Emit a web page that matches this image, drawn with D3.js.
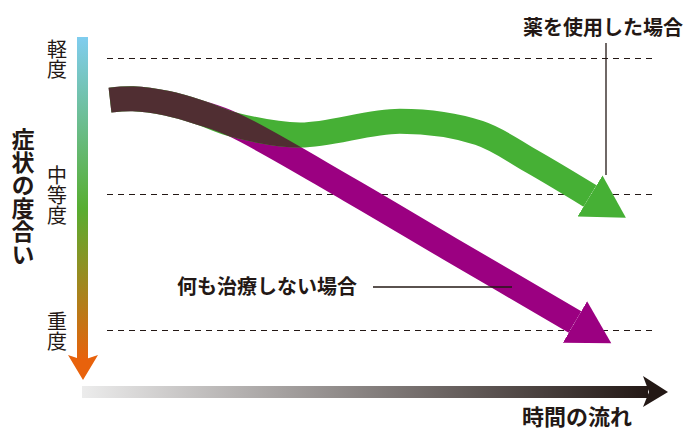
<!DOCTYPE html>
<html lang="ja">
<head>
<meta charset="utf-8">
<script src="https://cdn.jsdelivr.net/npm/d3@7"></script>
<style>
  html, body { margin: 0; padding: 0; background: #fff; }
  svg { display: block; font-family: "Noto Sans CJK JP", "Noto Sans", sans-serif; }
</style>
</head>
<body>
<div id="chart"></div>
<script>
// Severity levels (0 = mild, 1 = moderate, 2 = severe)
const severityLabels = ['軽度', '中等度', '重度'];
const severityValues = [0, 1, 2];

// Time on a 0..10 scale, severity on a 0..2 scale
const sharedTime = [0, 0.46, 1.14, 1.8, 2.46];
const sharedSeverity = [0.31, 0.30, 0.333, 0.401, 0.489];

const medicineTime = [...sharedTime, 3.8, 5.8, 7.38, 8.42, 9.6];
const medicineSeverity = [...sharedSeverity, 0.566, 0.465, 0.551, 0.757, 1.015];

const untreatedTime = [...sharedTime, 4.8, 6.8, 9.3];
const untreatedSeverity = [...sharedSeverity, 0.971, 1.404, 1.941];

const yAxisTitle = '症状の度合い';
const xAxisTitle = '時間の流れ';
const medicineLabel = '薬を使用した場合';
const untreatedLabel = '何も治療しない場合';

const width = 690;
const height = 432;
const ink = '#231815';

const colors = {
  medicine: '#46b035',
  untreated: '#9b0081',
  overlap: '#502e32'
};

const x = d3.scaleLinear().domain([0, 10]).range([110, 610]);
const y = d3.scaleLinear().domain([0, 2]).range([58, 330]);

const svg = d3.select('#chart')
  .append('svg')
  .attr('width', width)
  .attr('height', height);

const defs = svg.append('defs');

// vertical axis gradient: light blue -> green -> orange
const vGrad = defs.append('linearGradient')
  .attr('id', 'vgrad')
  .attr('x1', 0).attr('y1', 0).attr('x2', 0).attr('y2', 1);
vGrad.append('stop').attr('offset', '0%').attr('stop-color', '#80cdef');
vGrad.append('stop').attr('offset', '53%').attr('stop-color', '#57ae31');
vGrad.append('stop').attr('offset', '100%').attr('stop-color', '#e8620c');

// horizontal axis gradient: light grey -> near black
const hGrad = defs.append('linearGradient')
  .attr('id', 'hgrad')
  .attr('x1', 0).attr('y1', 0).attr('x2', 1).attr('y2', 0);
hGrad.append('stop').attr('offset', '0%').attr('stop-color', '#ececec');
hGrad.append('stop').attr('offset', '100%').attr('stop-color', ink);

// arrowheads for the two series
Object.entries({ medicine: colors.medicine, untreated: colors.untreated }).forEach(([key, color]) => {
  defs.append('marker')
    .attr('id', 'head-' + key)
    .attr('markerUnits', 'userSpaceOnUse')
    .attr('viewBox', '0 -26 46 52')
    .attr('markerWidth', 46)
    .attr('markerHeight', 52)
    .attr('refX', 0)
    .attr('refY', 0)
    .attr('orient', 'auto')
    .append('path')
    .attr('d', 'M0,-24L42,0L0,24Z')
    .attr('fill', color);
});

// dashed reference lines
svg.append('g')
  .selectAll('line')
  .data(severityValues)
  .join('line')
  .attr('x1', 107)
  .attr('x2', 653)
  .attr('y1', d => y(d) + 0.5)
  .attr('y2', d => y(d) + 0.5)
  .attr('stroke', ink)
  .attr('stroke-width', 1)
  .attr('stroke-dasharray', '6,5');

// severity labels, written vertically
svg.append('g')
  .selectAll('text')
  .data(severityValues)
  .join('text')
  .attr('x', 57)
  .attr('y', d => y(d) + 1)
  .attr('text-anchor', 'middle')
  .style('writing-mode', 'vertical-rl')
  .style('text-orientation', 'upright')
  .attr('font-size', 20)
  .attr('fill', ink)
  .text((d, i) => severityLabels[i]);

svg.append('text')
  .attr('x', 23)
  .attr('y', 197)
  .attr('text-anchor', 'middle')
  .style('writing-mode', 'vertical-rl')
  .style('text-orientation', 'upright')
  .attr('font-size', 23)
  .attr('font-weight', 700)
  .attr('fill', ink)
  .text(yAxisTitle);

// vertical axis arrow
svg.append('rect')
  .attr('x', 77).attr('y', 37)
  .attr('width', 11).attr('height', 323)
  .attr('fill', 'url(#vgrad)');
svg.append('path')
  .attr('d', 'M68,355L83,380L98,355L83,360Z')
  .attr('fill', '#e8620c');

// horizontal axis arrow
svg.append('rect')
  .attr('x', 82).attr('y', 386)
  .attr('width', 566).attr('height', 12)
  .attr('fill', 'url(#hgrad)');
svg.append('path')
  .attr('d', 'M643,376L668,392L643,407L649,392Z')
  .attr('fill', ink);

svg.append('text')
  .attr('x', 632)
  .attr('y', 415)
  .attr('text-anchor', 'end')
  .attr('dominant-baseline', 'central')
  .attr('font-size', 22)
  .attr('font-weight', 700)
  .attr('fill', ink)
  .text(xAxisTitle);

const line = d3.line()
  .x(d => x(d[0]))
  .y(d => y(d[1]))
  .curve(d3.curveCatmullRom.alpha(0.5));

const medicinePts = medicineTime.map((t, i) => [t, medicineSeverity[i]]);
const untreatedPts = untreatedTime.map((t, i) => [t, untreatedSeverity[i]]);

// mask = the green band, used to colour where both bands overlap
defs.append('mask')
  .attr('id', 'overlap-mask')
  .attr('maskUnits', 'userSpaceOnUse')
  .attr('x', 0).attr('y', 0)
  .attr('width', width).attr('height', height)
  .append('path')
  .attr('d', line(medicinePts))
  .attr('fill', 'none')
  .attr('stroke', '#fff')
  .attr('stroke-width', 25);

svg.append('path')
  .attr('d', line(untreatedPts))
  .attr('fill', 'none')
  .attr('stroke', colors.untreated)
  .attr('stroke-width', 25)
  .attr('marker-end', 'url(#head-untreated)');

svg.append('path')
  .attr('d', line(medicinePts))
  .attr('fill', 'none')
  .attr('stroke', colors.medicine)
  .attr('stroke-width', 25)
  .attr('marker-end', 'url(#head-medicine)');

svg.append('path')
  .attr('d', line(untreatedPts))
  .attr('fill', 'none')
  .attr('stroke', colors.overlap)
  .attr('stroke-width', 25)
  .attr('mask', 'url(#overlap-mask)');

// annotations
svg.append('text')
  .attr('x', 523)
  .attr('y', 26)
  .attr('dominant-baseline', 'central')
  .attr('font-size', 20)
  .attr('font-weight', 700)
  .attr('fill', ink)
  .text(medicineLabel);

svg.append('line')
  .attr('x1', x(9.92)).attr('x2', x(9.92))
  .attr('y1', 43).attr('y2', 175)
  .attr('stroke', ink)
  .attr('stroke-width', 1.3);

svg.append('text')
  .attr('x', 177)
  .attr('y', 285)
  .attr('dominant-baseline', 'central')
  .attr('font-size', 20)
  .attr('font-weight', 700)
  .attr('fill', ink)
  .text(untreatedLabel);

svg.append('line')
  .attr('x1', 373).attr('x2', 512)
  .attr('y1', 287).attr('y2', 287)
  .attr('stroke', ink)
  .attr('stroke-width', 1.3);
</script>
</body>
</html>
